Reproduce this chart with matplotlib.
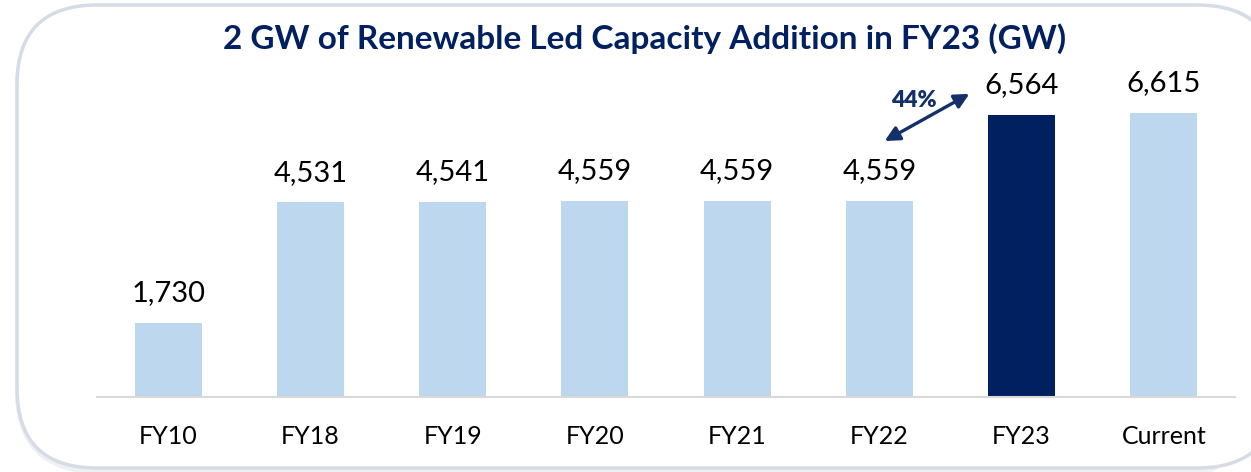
import matplotlib

matplotlib.use("Agg")
import matplotlib.pyplot as plt
from matplotlib.patches import FancyBboxPatch

categories = ["FY10", "FY18", "FY19", "FY20", "FY21", "FY22", "FY23", "Current"]
capacity = [1730, 4531, 4541, 4559, 4559, 4559, 6564, 6615]
highlight = "FY23"
growth_label = "44%"

LIGHT = "#BDD7EE"
NAVY = "#002060"

plt.rcParams["font.family"] = ["Lato", "DejaVu Sans"]

fig = plt.figure(figsize=(12.51, 4.72), dpi=100)

# rounded frame behind the chart, drawn in pixel units
bg = fig.add_axes([0, 0, 1, 1])
bg.set_xlim(0, 1251)
bg.set_ylim(472, 0)
bg.axis("off")
shadow = FancyBboxPatch((19, 8), 1260, 462, boxstyle="round,pad=0,rounding_size=80",
                        facecolor="none", edgecolor="#EEF0F4", linewidth=6)
frame = FancyBboxPatch((17, 5), 1260, 463, boxstyle="round,pad=0,rounding_size=80",
                       facecolor="white", edgecolor="#D6DCE6", linewidth=2.5)
bg.add_patch(shadow)
bg.add_patch(frame)

ax = fig.add_axes([97 / 1251, 75 / 472, 1138 / 1251, 337 / 472])
ax.patch.set_alpha(0)
x = range(len(categories))
colors = [NAVY if c == highlight else LIGHT for c in categories]
bars = ax.bar(x, capacity, width=0.47, color=colors)
ax.set_xlim(-0.5, 7.5)
ax.set_ylim(0, 7845)

for rect, v in zip(bars, capacity):
    ax.annotate(f"{v:,}", (rect.get_x() + rect.get_width() / 2, v),
                xytext=(0, 12), textcoords="offset points",
                ha="center", va="bottom", fontsize=21, color="black")

# growth arrow between FY22 and FY23
i = categories.index(highlight)
ax.annotate("", xy=(i - 0.35, capacity[i] * 1.08), xytext=(i - 0.98, capacity[i - 1] * 1.3),
            arrowprops=dict(arrowstyle="<|-|>", color="#14306A", lw=2.4, mutation_scale=22))
ax.text(i - 0.76, capacity[i] * 1.05, growth_label, fontsize=16.5, fontweight="heavy",
        color="#14306A", ha="center", va="center")

for s in ["top", "right", "left"]:
    ax.spines[s].set_visible(False)
ax.spines["bottom"].set_color("#D9D9D9")
ax.spines["bottom"].set_linewidth(1.5)
ax.set_yticks([])
ax.set_xticks(list(x))
ax.set_xticklabels(categories, fontsize=18)
ax.tick_params(axis="x", length=0, pad=20)

fig.text(645 / 1251, 1 - 39 / 472, "2 GW of Renewable Led Capacity Addition in FY23 (GW)",
         ha="center", va="center", fontsize=24, fontweight="bold", color=NAVY)

fig.savefig("out.png", dpi=100)
